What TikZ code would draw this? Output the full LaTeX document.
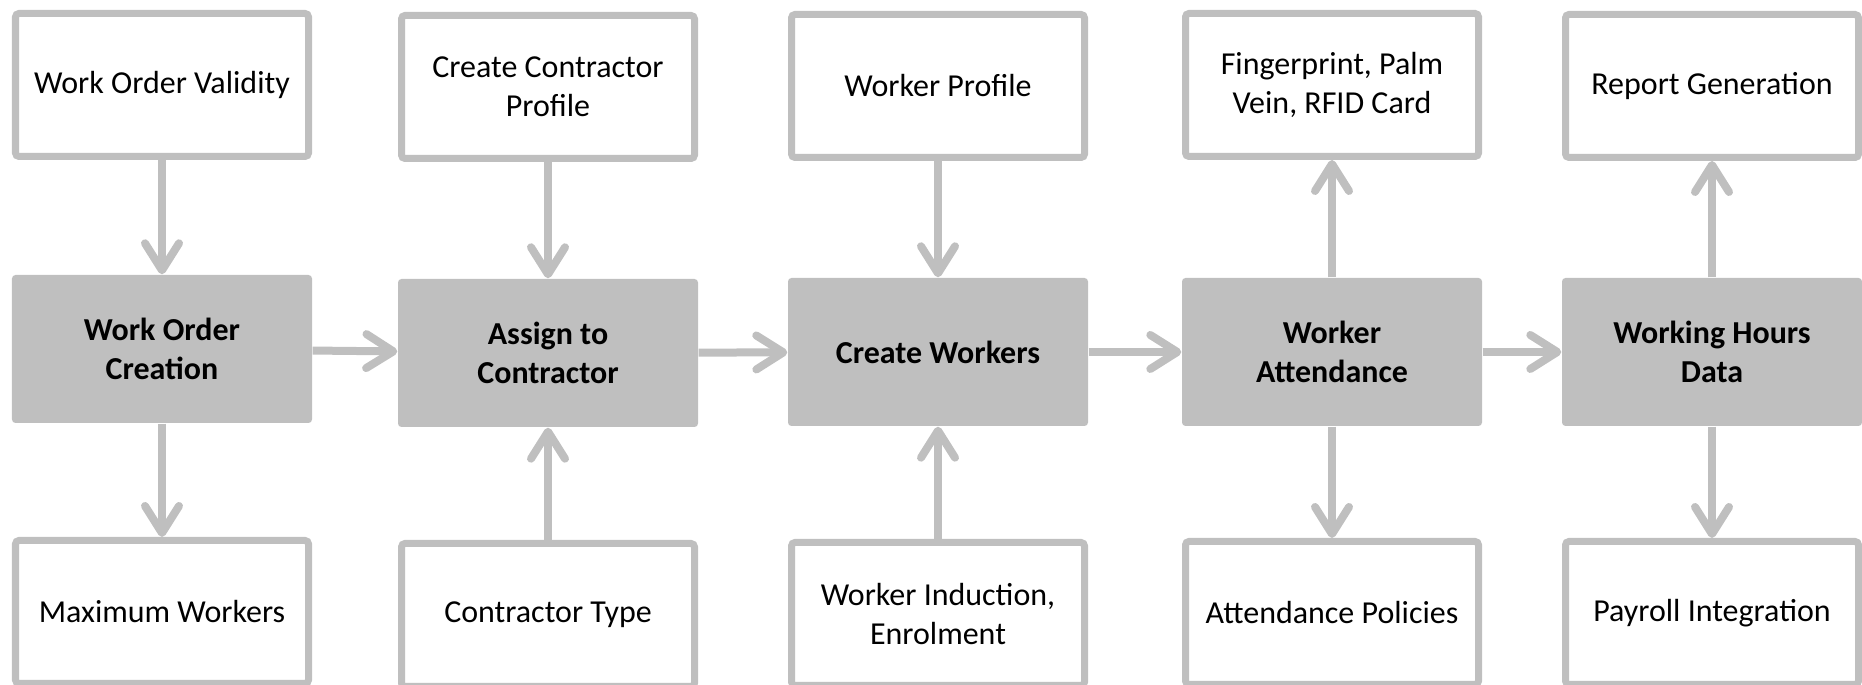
\documentclass[tikz,border=0pt]{standalone}
\usepackage{fontspec}
\setmainfont{Carlito}
\usetikzlibrary{arrows.meta}
\definecolor{boxgray}{RGB}{191,191,191}

\begin{document}
\begin{tikzpicture}[font=\fontsize{9.1}{11}\selectfont,
  sidebox/.style={draw=boxgray,line width=0.07cm,fill=white,rounded corners=1pt,minimum width=2.93cm,minimum height=1.43cm,inner sep=0pt,align=center},
  mainbox/.style={fill=boxgray,rounded corners=1pt,minimum width=3.0cm,minimum height=1.48cm,inner sep=0pt,align=center,font=\fontsize{9.1}{11}\selectfont\bfseries},
  link/.style={draw=boxgray,line width=0.08cm,-{Straight Barb[round,length=2.7mm,width=3.4mm]}}]
\useasboundingbox (0,0) rectangle (18.62,6.85);
\node[sidebox] (validity) at (1.62,6.00) {Work Order Validity};
\node[sidebox] (profile) at (5.48,5.98) {Create Contractor\\Profile};
\node[sidebox] (wprofile) at (9.38,5.99) {Worker Profile};
\node[sidebox] (biometric) at (13.32,6.00) {Fingerprint, Palm\\Vein, RFID Card};
\node[sidebox] (report) at (17.12,5.99) {Report Generation};
\node[mainbox] (creation) at (1.62,3.36) {Work Order\\Creation};
\node[mainbox] (assign) at (5.48,3.32) {Assign to\\Contractor};
\node[mainbox] (workers) at (9.38,3.33) {Create Workers};
\node[mainbox] (attendance) at (13.32,3.33) {Worker\\Attendance};
\node[mainbox] (hours) at (17.12,3.33) {Working Hours\\Data};
\node[sidebox] (maxworkers) at (1.62,0.73) {Maximum Workers};
\node[sidebox] (ctype) at (5.48,0.70) {Contractor Type};
\node[sidebox] (induction) at (9.38,0.71) {Worker Induction,\\Enrolment};
\node[sidebox] (policies) at (13.32,0.72) {Attendance Policies};
\node[sidebox] (payroll) at (17.12,0.72) {Payroll Integration};
\draw[link] (validity) -- (creation);
\draw[link] (creation) -- (maxworkers);
\draw[link] (profile) -- (assign);
\draw[link] (ctype) -- (assign);
\draw[link] (wprofile) -- (workers);
\draw[link] (induction) -- (workers);
\draw[link] (attendance) -- (biometric);
\draw[link] (attendance) -- (policies);
\draw[link] (hours) -- (report);
\draw[link] (hours) -- (payroll);
\draw[link] (creation) -- (assign);
\draw[link] (assign) -- (workers);
\draw[link] (workers) -- (attendance);
\draw[link] (attendance) -- (hours);
\end{tikzpicture}
\end{document}
